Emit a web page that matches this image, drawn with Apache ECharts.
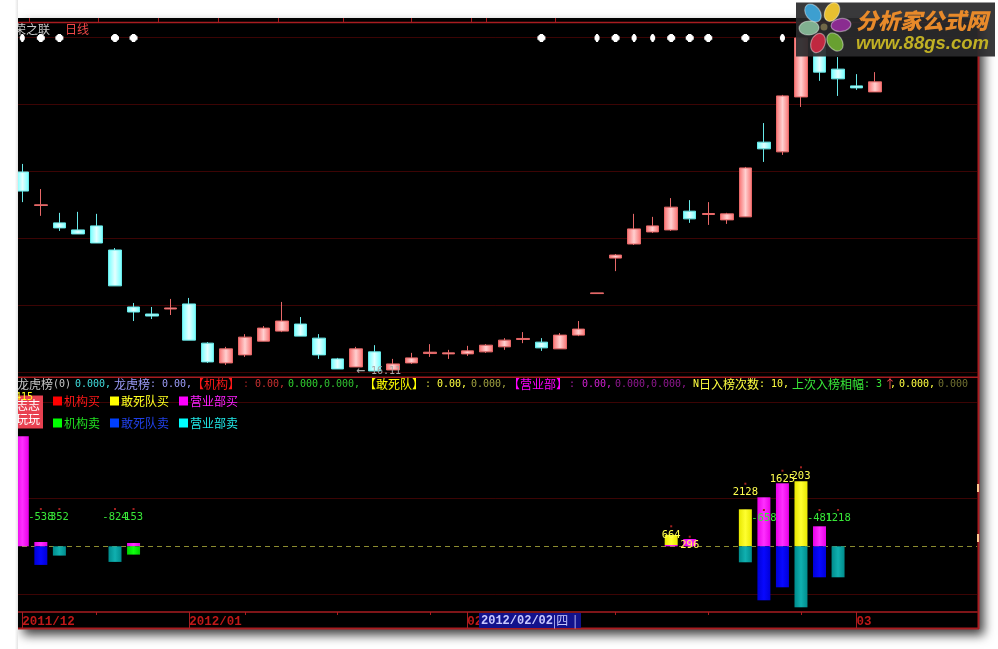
<!DOCTYPE html>
<html><head><meta charset="utf-8">
<style>html,body{margin:0;padding:0;background:#fff}#c{width:998px;height:649px}</style>
<script src="https://cdn.jsdelivr.net/npm/echarts@6/dist/echarts.min.js"></script>
</head><body><div id="c"></div>
<script>
// trading days
const dates = ['2011/12/20','2011/12/21','2011/12/22','2011/12/23','2011/12/26','2011/12/27','2011/12/28','2011/12/29','2011/12/30',
 '2012/01/04','2012/01/05','2012/01/06','2012/01/09','2012/01/10','2012/01/11','2012/01/12','2012/01/13','2012/01/16','2012/01/17','2012/01/18','2012/01/19','2012/01/20','2012/01/30','2012/01/31',
 '2012/02/01','2012/02/02','2012/02/03','2012/02/06','2012/02/07','2012/02/08','2012/02/09','2012/02/10','2012/02/13','2012/02/14','2012/02/15','2012/02/16','2012/02/17','2012/02/20','2012/02/21','2012/02/22','2012/02/23','2012/02/24','2012/02/27','2012/02/28','2012/02/29',
 '2012/03/01','2012/03/02','2012/03/05','2012/03/06','2012/03/07','2012/03/08','2012/03/09'];
// candles (prices)
const opens  = [21.98,20.98,20.46,20.25,20.37,19.65,17.95,17.74,17.89,18.04,16.87,16.28,16.52,16.93,17.23,17.44,17.02,16.40,16.16,16.61,16.07,16.28,16.56,16.55,16.55,16.61,16.76,16.98,16.90,16.70,17.11,18.35,19.41,19.83,20.19,20.25,20.81,20.71,20.55,20.64,22.87,22.58,24.22,25.71,25.05,24.55,24.37];
const closes = [21.41,21.00,20.31,20.13,19.86,18.58,17.80,17.68,17.92,16.96,16.31,16.70,17.05,17.32,17.53,17.08,16.52,16.10,16.70,16.04,16.25,16.43,16.60,16.58,16.64,16.81,16.96,17.01,16.73,17.11,17.29,18.37,19.50,20.28,20.37,20.93,20.58,20.74,20.73,22.10,22.67,24.25,25.98,24.96,24.76,24.49,24.67];
const lows   = [21.08,20.67,20.22,20.13,19.86,18.58,17.53,17.59,17.71,16.96,16.28,16.22,16.46,16.93,17.20,17.08,16.40,16.10,16.16,16.04,16.07,16.25,16.46,16.40,16.49,16.58,16.67,16.87,16.64,16.70,17.08,18.35,19.02,19.80,20.16,20.22,20.46,20.40,20.43,20.64,22.28,22.49,23.92,24.70,24.25,24.43,24.37];
const highs  = [22.22,21.47,20.76,20.79,20.73,19.71,18.07,17.95,18.19,18.22,16.90,16.76,17.14,17.38,18.10,17.65,17.14,16.43,16.76,16.81,16.40,16.58,16.84,16.67,16.79,16.84,17.02,17.20,17.02,17.17,17.53,18.37,19.53,20.73,20.64,21.20,21.14,21.08,20.76,22.13,23.44,24.28,25.98,25.71,25.41,24.90,24.96];
// star row
const starDays = [0,1,2,5,6,28,31,32,33,34,35,36,37,39,41];
const narrowStars = [0,31,33,34,41];
const starLevel = 25.98;
// lower pane bars
const sMagenta = {0:5500,1:215,6:165,35:65,36:365,40:2450,41:3150,43:1000};
const sYellow  = {35:500,39:1850,42:3250};
const sGreen   = {6:-415};
const sBlue    = {1:-930,40:-2700,41:-2050,43:-1550};
const sTeal    = {2:-465,5:-780,39:-800,42:-3050,44:-1550};
const lowerLines = [7200,2400,-2400];
// number labels: [day, level, text]
const greenLabels  = [[1,1865,'-538'],[2,1865,'352'],[5,1865,'-824'],[6,1865,'153'],[40,1815,'-658'],[43,1815,'-481'],[44,1815,'1218']];
const yellowLabels = [[35,1000,'664'],[36,480,'296'],[39,3130,'2128'],[41,3780,'1625'],[42,3950,'203']];
// month labels on the date strip
const monthStarts = {0:'2011/12',9:'2012/01',24:'02',45:'03'};
const shortTicks = [4,12,17,22,32,37,42];
const topTicks = [29,98,158,218,278,343,411,471,486,555];
const headerRuns = [
 ['龙虎榜(0)',17,'#c8c8c8'],['0.000,',75,'#40dcdc'],['龙虎榜: 0.00,',114,'#9c9cf8'],
 ['【机构】',192,'#ff1818'],[':',243,'#a02020'],['0.00,',255,'#c83030'],['0.000,',288,'#30d030'],['0.000,',324,'#30c030'],
 ['【敢死队】',364,'#ffff00'],[':',425,'#c8c840'],['0.00,',437,'#ffff40'],['0.000,',471,'#a0a040'],
 ['【营业部】',508,'#ff00ff'],[':',569,'#a020a0'],['0.00,',582,'#d020d0'],['0.000,',615,'#901890'],['0.000,',651,'#901890'],
 ['N日入榜次数: 10,',693,'#ffff40'],['上次入榜相幅: ',792,'#38e838'],['3',876,'#38e838'],['↑',884,'#ff5050'],[',',890,'#ffff40'],['0.000,',899,'#ffff40'],['0.000',938,'#707030']
];

const MONO='"DejaVu Sans Mono",monospace', CJK='"Noto Sans CJK SC",sans-serif';
const FRAME='#a81c20', GRIDC='#3c0404';
function dense(o){return dates.map((d,i)=> i in o ? o[i] : null);}
function hgrad(a,b){return new echarts.graphic.LinearGradient(0,0,1,0,[{offset:0,color:a},{offset:.5,color:b},{offset:1,color:a}]);}

const candle = opens.map((o,i)=>[o,closes[i],lows[i],highs[i]]);
const axisBase = {type:'category',data:dates,axisLine:{show:false},axisTick:{show:false},axisLabel:{show:false},splitLine:{show:false}};

// header text laid out by cell width: Latin 6px, CJK 12px
function textRuns(str,x,y,color,z){
  const out=[]; let buf='',wide=null,sx=x,cx=x;
  const flush=()=>{ if(buf){out.push({type:'text',z:z,silent:true,x:sx,y:y,style:{text:buf,fill:color,
     font:(wide?'12px '+CJK:'10px '+MONO),textVerticalAlign:'middle',textAlign:'left'}});} buf=''; };
  for(const ch of str){
    const w = ch.charCodeAt(0)>255;
    if(w!==wide){flush();wide=w;sx=cx;}
    buf+=ch; cx+=w?12:6;
  }
  flush(); return out;
}
const gfx=[];
// page panel with soft shadow
gfx.push({type:'rect',z:-5,silent:true,shape:{x:18,y:18,width:961,height:611},style:{fill:'#000',shadowBlur:10,shadowColor:'rgba(0,0,0,.75)',shadowOffsetX:5,shadowOffsetY:6}});
// frame lines
[[18,22.5,979,22.5,1.5],[18,377.3,979,377.3,1.5],[18,628.5,979,628.5,2],[978.5,18,978.5,629,2]].forEach(l=>gfx.push({type:'line',z:40,silent:true,shape:{x1:l[0],y1:l[1],x2:l[2],y2:l[3]},style:{stroke:FRAME,lineWidth:l[4]}}));
topTicks.forEach(x=>gfx.push({type:'line',z:40,silent:true,shape:{x1:x+.5,y1:18,x2:x+.5,y2:22},style:{stroke:FRAME,lineWidth:1}}));
// left clip
gfx.push({type:'rect',z:60,silent:true,shape:{x:0,y:0,width:18,height:649},style:{fill:new echarts.graphic.LinearGradient(0,0,1,0,[{offset:0,color:'#fff'},{offset:.82,color:'#fff'},{offset:1,color:'#e4e4e4'}])}});
// title
gfx.push(...textRuns('荣之联',14,29,'#c8c8c8',50));
gfx.push(...textRuns('日线',65,29,'#f04848',50));
// header row
headerRuns.forEach(r=>gfx.push(...textRuns(r[0],r[1],384,r[2],50)));
// sticker
gfx.push({type:'rect',z:45,silent:true,shape:{x:18,y:395.5,width:25,height:33},style:{fill:'#e84050'}});
gfx.push(...textRuns('志志',16,405,'#fff',50));
gfx.push(...textRuns('玩玩',16,419.5,'#fff',50));
gfx.push(...textRuns('415',15,397,'#ffff20',51));
// clipped marks on the right edge
[[977,484,8],[977,534,8]].forEach(m=>gfx.push({type:'rect',z:41,silent:true,shape:{x:m[0],y:m[1],width:2,height:m[2]},style:{fill:'#ffc890'}}));
// current date box
gfx.push({type:'rect',z:55,silent:true,shape:{x:479,y:613,width:102,height:15},style:{fill:'#12128c'}});
gfx.push({type:'text',z:56,silent:true,x:481,y:621,style:{text:'2012/02/02',fill:'#c8c8ff',font:'bold 12px "Liberation Mono",monospace',textVerticalAlign:'middle'}});
gfx.push({type:'text',z:56,silent:true,x:553,y:620.5,style:{text:'|四  |',fill:'#c8c8ff',font:'12px '+CJK,textVerticalAlign:'middle'}});
// logo
gfx.push({type:'rect',z:70,silent:true,shape:{x:796,y:2.5,width:199,height:54},style:{fill:'rgba(42,42,44,.93)'}});
[[813,13,10,7,-.91,'#3d9fd0'],[832,12,10,7,1.08,'#e8c030'],[841,25,10,6.5,.12,'#8a2c90'],[835,42,10,7,-.94,'#68a030'],[818,43,10,7,1.21,'#c02840'],[809,28,10,7,.07,'#80b090']].forEach(p=>{
  gfx.push({type:'ellipse',z:71,silent:true,x:p[0],y:p[1],rotation:p[4],shape:{cx:0,cy:0,rx:p[2],ry:p[3]},style:{fill:p[5],stroke:'rgba(255,255,255,.4)',lineWidth:1.2}});
});
gfx.push({type:'circle',z:72,silent:true,shape:{cx:824,cy:27,r:3.5},style:{fill:'#706848'}});
gfx.push({type:'text',z:72,silent:true,x:856,y:20.5,style:{text:'分析家公式网',font:'italic 900 22px '+CJK,textVerticalAlign:'middle',fill:'#e88a2a'}});
gfx.push({type:'text',z:72,silent:true,x:856,y:44,style:{text:'www.88gs.com',font:'italic bold 18.5px "Liberation Sans",sans-serif',fill:'#c0b024',textVerticalAlign:'middle'}});

function labelSeries(list,color){
  return {type:'scatter',xAxisIndex:1,yAxisIndex:1,z:8,silent:true,symbol:'rect',symbolSize:2,itemStyle:{color:'#a02020',opacity:1},
    data:list.map(l=>({value:[l[0],l[1]],label:{formatter:l[2]}})),
    label:{show:true,position:'bottom',distance:2,color:color,fontFamily:MONO,fontSize:10.5}};
}
function barS(name,o,color){
  return {name,type:'bar',stack:'all',xAxisIndex:1,yAxisIndex:1,barWidth:13,z:3,data:dense(o),itemStyle:{color}};
}

const option={
 animation:false,backgroundColor:'#fff',
 tooltip:{show:false},
 grid:[
  {left:13.03,width:964.08,top:37.3,height:335},
  {left:13.03,width:964.08,top:378,height:234},
  {left:13.03,width:964.08,top:612,height:16.5}
 ],
 xAxis:[
  Object.assign({},axisBase,{gridIndex:0}),
  Object.assign({},axisBase,{gridIndex:1}),
  {type:'category',data:dates,gridIndex:2,position:'top',
   axisLine:{show:true,onZero:false,lineStyle:{color:FRAME,width:1.5}},
   axisTick:{show:true,inside:true,alignWithLabel:true,length:3,lineStyle:{color:FRAME},interval:(i)=>shortTicks.includes(i)},
   splitLine:{show:true,alignWithLabel:true,lineStyle:{color:FRAME,width:1},interval:(i)=>i in monthStarts},
   axisLabel:{show:true,inside:true,margin:3,align:'left',verticalAlign:'top',color:'#c01818',fontFamily:'"Liberation Mono",monospace',fontWeight:'bold',fontSize:12.5,
     interval:(i)=>i in monthStarts,formatter:(v,i)=>monthStarts[i]||''}}
 ],
 yAxis:[
  {type:'value',gridIndex:0,min:16,max:26,interval:2,axisLine:{show:false},axisTick:{show:false},axisLabel:{show:false},splitLine:{show:true,lineStyle:{color:GRIDC,width:1}}},
  {type:'value',gridIndex:1,min:-3285,max:8415,axisLine:{show:false},axisTick:{show:false},axisLabel:{show:false},splitLine:{show:false}},
  {type:'value',gridIndex:2,min:0,max:1,axisLine:{show:false},axisTick:{show:false},axisLabel:{show:false},splitLine:{show:false}}
 ],
 legend:[
  {left:48,top:390,itemWidth:9,itemHeight:9,itemGap:10,icon:'rect',selectedMode:false,textStyle:{fontFamily:CJK,fontSize:12,padding:[0,0,0,-3]},
   data:[{name:'机构买',textStyle:{color:'#ff1818'},itemStyle:{color:'#ff0000'}},{name:'敢死队买',textStyle:{color:'#ffff20'},itemStyle:{color:'#ffff00'}},{name:'营业部买',textStyle:{color:'#ff20ff'},itemStyle:{color:'#ff00ff'}}]},
  {left:48,top:412,itemWidth:9,itemHeight:9,itemGap:10,icon:'rect',selectedMode:false,textStyle:{fontFamily:CJK,fontSize:12,padding:[0,0,0,-3]},
   data:[{name:'机构卖',textStyle:{color:'#20e020'},itemStyle:{color:'#00ff00'}},{name:'敢死队卖',textStyle:{color:'#2040e8'},itemStyle:{color:'#0040ff'}},{name:'营业部卖',textStyle:{color:'#20e8e8'},itemStyle:{color:'#00ffff'}}]}
 ],
 series:[
  {name:'K',type:'candlestick',xAxisIndex:0,yAxisIndex:0,barWidth:13,z:3,data:candle,
   itemStyle:{color:hgrad('#f87070','#ffd0d0'),color0:hgrad('#70ffff','#e4ffff'),borderColor:'#e86868',borderColor0:'#68eaea',borderWidth:1},
   markPoint:{silent:true,symbol:'circle',symbolSize:0,data:[{coord:[18,16.03],label:{show:true,position:'right',distance:0,formatter:'{a|←}{b|16.11}',rich:{a:{fontSize:15,width:15,color:'#a8a8a8',fontFamily:MONO},b:{fontSize:10,color:'#a8a8a8',fontFamily:MONO}}}}]}},
  {name:'星',type:'scatter',xAxisIndex:0,yAxisIndex:0,z:5,silent:true,clip:false,
   symbol:'path://M2 0h3v1h1v1h1v3h-1v1h-1v1h-3v-1h-1v-1h-1v-3h1v-1h1z',
   data:starDays.map(d=>({value:[d,starLevel],symbolSize:narrowStars.includes(d)?[5,8]:[8,8]})),itemStyle:{color:'#fff',opacity:1}},
  barS('机构买',{}, '#ff0000'),
  barS('营业部买',sMagenta,hgrad('#e800e8','#ff30ff')),
  barS('敢死队买',sYellow,hgrad('#e8e800','#ffff30')),
  barS('机构卖',sGreen,hgrad('#00d000','#10ff10')),
  barS('敢死队卖',sBlue,hgrad('#0000d8','#0808ff')),
  barS('营业部卖',sTeal,hgrad('#008c8c','#10b0b0')),
  {type:'line',xAxisIndex:1,yAxisIndex:1,data:[],silent:true,symbol:'none',z:1,
   markLine:{silent:true,z:1,symbol:'none',label:{show:false},animation:false,data:[
     ...lowerLines.map(v=>({yAxis:v,lineStyle:{color:GRIDC,type:'solid',width:1}})),
     {yAxis:0,lineStyle:{color:'#8c8c30',type:[5,4],width:1}}]}},
  labelSeries(greenLabels,'#38e838'),
  labelSeries(yellowLabels,'#ffff50')
 ],
 graphic:{elements:gfx}
};
const chart=echarts.init(document.getElementById('c'),null,{renderer:'canvas'});
chart.setOption(option);
</script></body></html>
